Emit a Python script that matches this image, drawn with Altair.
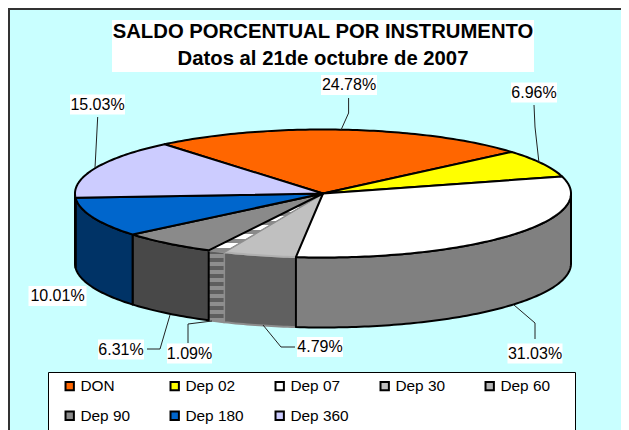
import numpy as np
import altair as alt

# --- values
categories = ["DON", "Dep 02", "Dep 07", "Dep 30", "Dep 60", "Dep 90", "Dep 180", "Dep 360"]
shares = [24.78, 6.96, 31.03, 4.79, 1.09, 6.31, 10.01, 15.03]

# --- styles
top_colors = ["#FF6600", "#FFFF00", "#FFFFFF", "#C0C0C0", "#B4B4B4", "#8A8A8A", "#0066CC", "#CCCCFF"]
wall_colors = ["#803300", "#808000", "#808080", "#606060", "#6E6E6E", "#484848", "#003366", "#666680"]
edge_colors = ["#000000", "#000000", "#000000", "#B0B0B0", "#909090", "#000000", "#000000", "#000000"]
wall_edges = ["#000000", "#000000", "#000000", "#8C8C8C", "#909090", "#000000", "#000000", "#000000"]

# --- pie geometry, in page pixels
CX, CY, RX, RY, DEPTH = 323.0, 193.5, 248.0, 64.0, 70.0
START = -39.7


def rim(deg, drop=0.0):
    a = np.radians(deg)
    return [float(CX + RX * np.sin(a)), float(CY - RY * np.cos(a) + drop)]


def sweep(a, b):
    n = max(int(abs(b - a)), 1) + 1
    return [float(v) for v in np.linspace(a, b, n + 1)]


def polygon(name, ring, fill, stroke):
    return {"type": "Feature",
            "geometry": {"type": "Polygon", "coordinates": [ring + [ring[0]]]},
            "properties": {"name": name, "fill": fill, "stroke": stroke}}


def path(points):
    return {"type": "Feature", "geometry": {"type": "LineString", "coordinates": points}, "properties": {}}


faces, walls = {}, {}
angle = START
for name, share, tc, wc, ec, we in zip(categories, shares, top_colors, wall_colors, edge_colors, wall_edges):
    a0, a1 = angle, angle + share * 3.6
    angle = a1
    faces[name] = polygon(name, [[CX, CY]] + [rim(d) for d in sweep(a0, a1)], tc, ec)
    lo, hi = max(a0, 90.0), min(a1, 270.0)
    if hi > lo:
        arc = sweep(lo, hi)
        walls[name] = polygon(name, [rim(d) for d in arc] + [rim(d, DEPTH) for d in reversed(arc)], wc, we)

# Faint-edged slices go first so that the black outlines of their neighbours stay on top
soft = ["Dep 30", "Dep 60"]
hard = [c for c in categories if c not in soft]


def stripes(dark, light, count):
    stops = []
    for i in range(count):
        c = dark if i % 2 == 0 else light
        stops.append({"offset": i / count, "color": c})
        stops.append({"offset": (i + 1) / count, "color": c})
    return {"gradient": "linear", "x1": 0, "y1": 0, "x2": 0, "y2": 1, "stops": stops}


PROJ = dict(type="identity", scale=1, translate=[-8, -8])
color_scale = alt.Scale(domain=categories, range=top_colors)
legend = alt.Legend(title=None, orient="none", legendX=54, legendY=370, columns=5, direction="horizontal",
                    symbolType="square", symbolSize=70, symbolStrokeColor="#000000", symbolStrokeWidth=2,
                    labelFont="Liberation Sans", labelFontSize=15.4, labelColor="#000000", labelOffset=3,
                    columnPadding=27, rowPadding=12, padding=0, labelLimit=200)


def walls_layer(names):
    return alt.Chart(alt.Data(values=[walls[n] for n in names if n in walls])).mark_geoshape(strokeWidth=2, strokeJoin="round").encode(
        fill=alt.Fill("properties.fill:N", scale=None),
        stroke=alt.Stroke("properties.stroke:N", scale=None),
    ).project(**PROJ)


def faces_layer(names):
    return alt.Chart(alt.Data(values=[faces[n] for n in names])).mark_geoshape(strokeWidth=2, strokeJoin="round").encode(
        fill=alt.Fill("properties.name:N", scale=color_scale, legend=legend),
        stroke=alt.Stroke("properties.stroke:N", scale=None),
    ).project(**PROJ)


def striped(feature, grad):
    return alt.Chart(alt.Data(values=[feature])).mark_geoshape(fill=grad, stroke="#8C8C8C", strokeWidth=1).project(**PROJ)


# --- page furniture
frame = alt.Chart(alt.Data(values=[{"k": 1}])).mark_rect(fill="#C9FFFF", stroke="#333333", strokeWidth=2).encode(
    x=alt.value(1), x2=alt.value(660), y=alt.value(1), y2=alt.value(460))
legend_box = alt.Chart(alt.Data(values=[{"k": 1}])).mark_rect(fill="#FFFFFF", stroke="#000000", strokeWidth=1).encode(
    x=alt.value(40.5), x2=alt.value(567.5), y=alt.value(364.5), y2=alt.value(460))

# --- labels, page pixels
label_text = [f"{v:.2f}%" for v in shares]
label_x = [349, 534, 535, 320, 189.5, 121, 57.5, 97.5]
label_y = [85, 92.5, 353.5, 347, 353.5, 349.5, 296, 104.5]
label_w = [56, 46, 55, 46, 45, 46, 58, 55]
label_h = 20
labels = [{"t": t, "x": x, "y": y, "x0": x - w / 2, "x1": x + w / 2, "y0": y - label_h / 2, "y1": y + label_h / 2}
          for t, x, y, w in zip(label_text, label_x, label_y, label_w)]
leader_paths = [
    [[348.6, 98], [348.6, 113], [341, 130]],
    [[534, 105], [535, 127], [539, 163]],
    [[514, 305], [535, 323], [535, 339]],
    [[263, 325], [281, 347], [295, 347]],
    [[188, 343], [188, 324], [212, 321]],
    [[147, 349], [160, 349], [170, 315]],
    [[97.7, 117], [95, 168]],
]

title_lines = ["SALDO PORCENTUAL POR INSTRUMENTO", "Datos al 21de octubre de 2007"]
title_y = [32, 59]
title_box = [{"x0": 112, "x1": 534, "y0": 20, "y1": 72}]

xs = alt.Scale(domain=[8, 621], nice=False, zero=False)
ys = alt.Scale(domain=[8, 430], nice=False, zero=False, reverse=True)


def boxes(rows):
    return alt.Chart(alt.Data(values=rows)).mark_rect(fill="#FFFFFF", strokeWidth=0).encode(
        x=alt.X("x0:Q", scale=xs, axis=None), x2="x1:Q",
        y=alt.Y("y0:Q", scale=ys, axis=None), y2="y1:Q")


leaders = alt.Chart(alt.Data(values=[path(p) for p in leader_paths])).mark_geoshape(
    filled=False, stroke="#222222", strokeWidth=1).project(**PROJ)

label_marks = alt.Chart(alt.Data(values=labels)).mark_text(
    font="Liberation Sans", fontSize=16, color="#000000", align="center", baseline="middle").encode(
    x=alt.X("x:Q", scale=xs, axis=None), y=alt.Y("y:Q", scale=ys, axis=None), text="t:N")

title_marks = alt.Chart(alt.Data(values=[{"t": t, "x": 323, "y": y} for t, y in zip(title_lines, title_y)])).mark_text(
    font="Liberation Sans", fontSize=20.3, fontWeight="bold", color="#000000", align="center", baseline="middle").encode(
    x=alt.X("x:Q", scale=xs, axis=None), y=alt.Y("y:Q", scale=ys, axis=None), text="t:N")

chart = alt.layer(
    frame,
    boxes(title_box),
    legend_box,
    walls_layer(soft),
    striped(walls["Dep 60"], stripes("#5E5E5E", "#8E8E8E", 18)),
    walls_layer(hard),
    faces_layer(soft),
    striped(faces["Dep 60"], stripes("#8A8A8A", "#FFFFFF", 13)),
    faces_layer(hard),
    leaders,
    boxes(labels),
    label_marks,
    title_marks,
).properties(
    width=613, height=422, padding=0, background="#FFFFFF",
    autosize=alt.AutoSizeParams(type="none"),
).configure_view(stroke=None).configure_legend(gridAlign="all")

chart.save("out.html", embed_options={"renderer": "svg", "actions": False})
